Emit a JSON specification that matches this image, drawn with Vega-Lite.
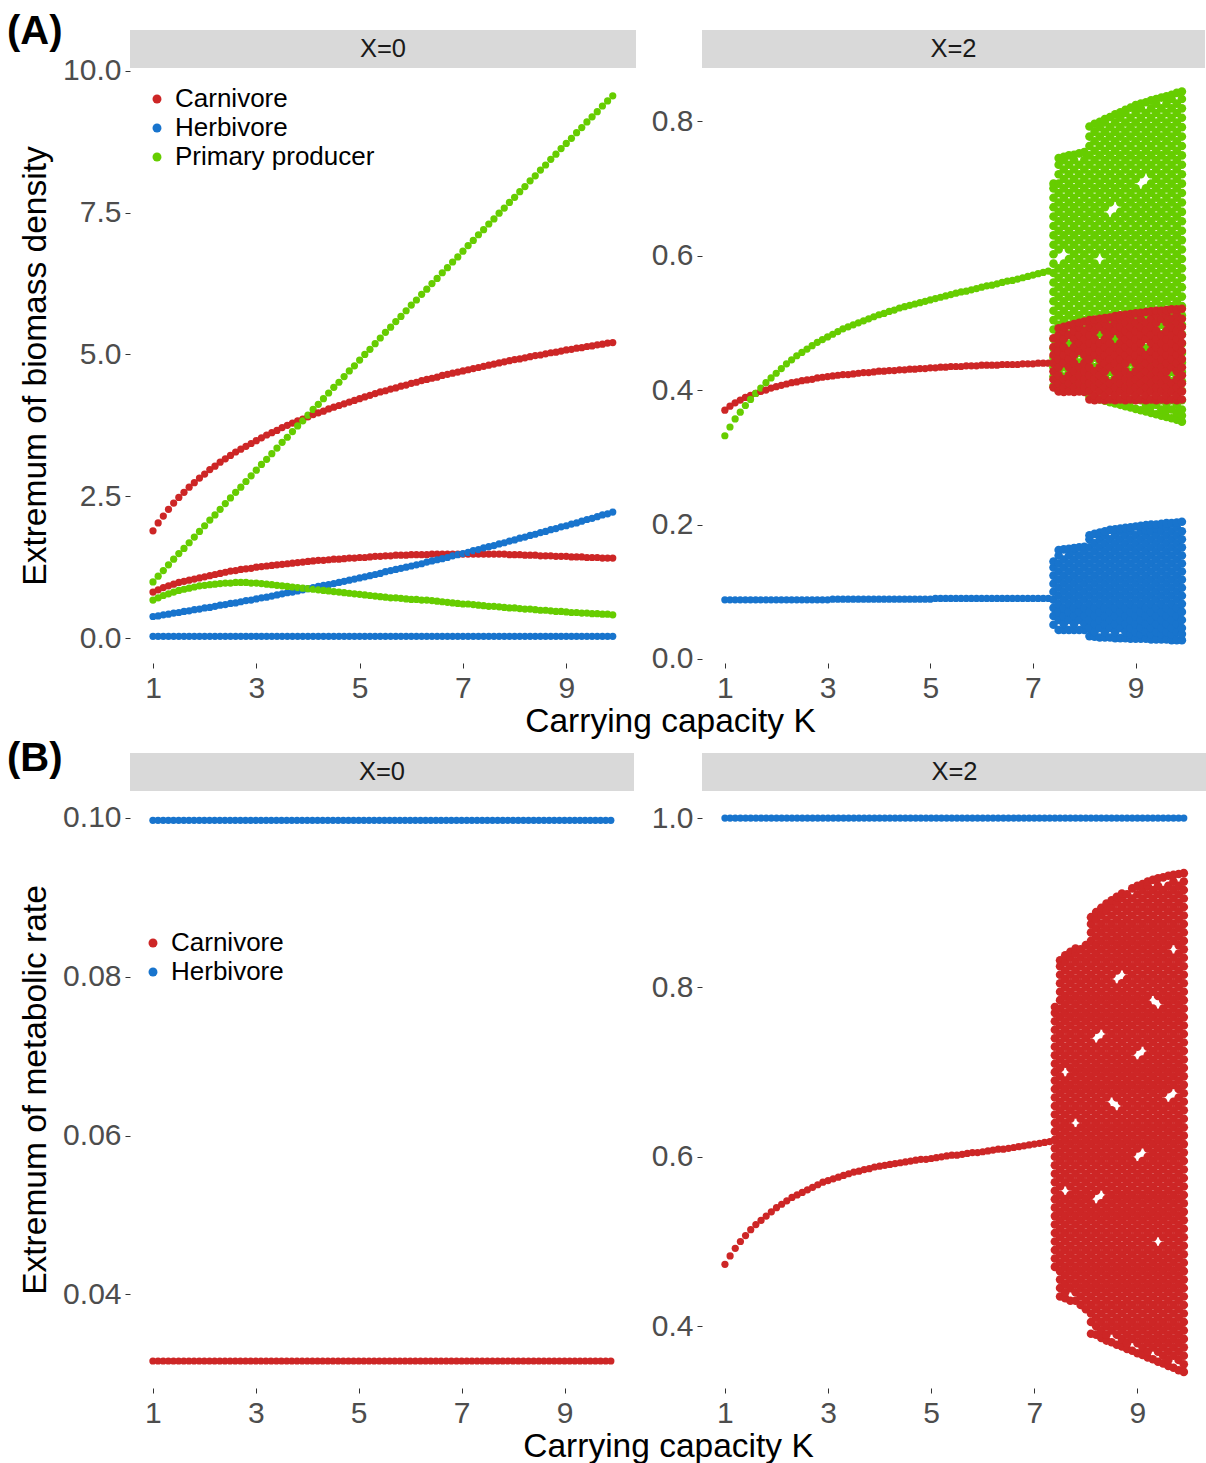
{
"$schema":"https://vega.github.io/schema/vega-lite/v6.json",
"padding":{"left":7,"top":12,"right":0,"bottom":0},
"background":"#ffffff",
"config":{
"font":"Liberation Sans",
"view":{"stroke":null},
"axis":{"grid":false,"domain":false,"ticks":true,"tickSize":5,"tickWidth":1,"tickColor":"#333333","labelFont":"Liberation Sans","labelFontSize":30,"labelColor":"#4d4d4d","labelFlush":false,"labelOverlap":false,"titleFont":"Liberation Sans","titleFontSize":33.5,"titleFontWeight":"normal","titleColor":"#000000"},
"axisX":{"labelPadding":5,"titlePadding":2},
"axisY":{"labelPadding":4,"titlePadding":10},
"legend":{"labelFont":"Liberation Sans","labelLimit":0}
},
"datasets":{
"keys":[{"key":"a","s":"Carnivore"},{"key":"b","s":"Carnivore"},{"key":"c","s":"Herbivore"},{"key":"d","s":"Herbivore"},{"key":"e","s":"Primary producer"},{"key":"f","s":"Primary producer"},{"key":"g","s":"Carnivore"},{"key":"h","s":"Herbivore"},{"key":"i","s":"Primary producer"},{"key":"j","s":"Carnivore"},{"key":"l","s":"Herbivore"},{"key":"m","s":"Carnivore"},{"key":"n","s":"Herbivore"}],
"curves":[
{"k":1.0,"a":1.89,"b":0.81,"c":0.38,"d":0.03,"e":0.99,"f":0.67,"g":0.370,"h":0.088,"i":0.332,"j":0.0316,"l":0.0997,"m":0.473,"n":1},
{"k":1.1,"a":2.03,"b":0.85,"c":0.39,"d":0.03,"e":1.09,"f":0.71,"g":0.376,"h":0.088,"i":0.345,"j":0.0316,"l":0.0997,"m":0.483,"n":1},
{"k":1.2,"a":2.15,"b":0.89,"c":0.41,"d":0.03,"e":1.19,"f":0.75,"g":0.381,"h":0.088,"i":0.357,"j":0.0316,"l":0.0997,"m":0.492,"n":1},
{"k":1.3,"a":2.27,"b":0.92,"c":0.42,"d":0.03,"e":1.29,"f":0.78,"g":0.385,"h":0.088,"i":0.367,"j":0.0316,"l":0.0997,"m":0.500,"n":1},
{"k":1.4,"a":2.38,"b":0.95,"c":0.44,"d":0.03,"e":1.39,"f":0.81,"g":0.389,"h":0.088,"i":0.377,"j":0.0316,"l":0.0997,"m":0.507,"n":1},
{"k":1.5,"a":2.48,"b":0.98,"c":0.45,"d":0.03,"e":1.49,"f":0.84,"g":0.392,"h":0.088,"i":0.386,"j":0.0316,"l":0.0997,"m":0.514,"n":1},
{"k":1.6,"a":2.57,"b":1.00,"c":0.47,"d":0.03,"e":1.58,"f":0.86,"g":0.395,"h":0.088,"i":0.395,"j":0.0316,"l":0.0997,"m":0.520,"n":1},
{"k":1.7,"a":2.66,"b":1.02,"c":0.48,"d":0.03,"e":1.68,"f":0.88,"g":0.398,"h":0.088,"i":0.403,"j":0.0316,"l":0.0997,"m":0.525,"n":1},
{"k":1.8,"a":2.74,"b":1.04,"c":0.50,"d":0.03,"e":1.78,"f":0.90,"g":0.400,"h":0.088,"i":0.411,"j":0.0316,"l":0.0997,"m":0.530,"n":1},
{"k":1.9,"a":2.82,"b":1.06,"c":0.51,"d":0.03,"e":1.88,"f":0.92,"g":0.403,"h":0.088,"i":0.418,"j":0.0316,"l":0.0997,"m":0.535,"n":1},
{"k":2.0,"a":2.89,"b":1.08,"c":0.53,"d":0.03,"e":1.98,"f":0.93,"g":0.405,"h":0.088,"i":0.425,"j":0.0316,"l":0.0997,"m":0.540,"n":1},
{"k":2.1,"a":2.97,"b":1.10,"c":0.54,"d":0.03,"e":2.08,"f":0.94,"g":0.407,"h":0.088,"i":0.432,"j":0.0316,"l":0.0997,"m":0.544,"n":1},
{"k":2.2,"a":3.03,"b":1.12,"c":0.56,"d":0.03,"e":2.17,"f":0.95,"g":0.409,"h":0.088,"i":0.439,"j":0.0316,"l":0.0997,"m":0.548,"n":1},
{"k":2.3,"a":3.10,"b":1.14,"c":0.58,"d":0.03,"e":2.27,"f":0.96,"g":0.411,"h":0.088,"i":0.445,"j":0.0316,"l":0.0997,"m":0.552,"n":1},
{"k":2.4,"a":3.16,"b":1.16,"c":0.59,"d":0.03,"e":2.37,"f":0.97,"g":0.412,"h":0.088,"i":0.451,"j":0.0316,"l":0.0997,"m":0.555,"n":1},
{"k":2.5,"a":3.22,"b":1.18,"c":0.61,"d":0.03,"e":2.47,"f":0.97,"g":0.414,"h":0.088,"i":0.456,"j":0.0316,"l":0.0997,"m":0.558,"n":1},
{"k":2.6,"a":3.28,"b":1.19,"c":0.62,"d":0.03,"e":2.57,"f":0.98,"g":0.415,"h":0.088,"i":0.461,"j":0.0316,"l":0.0997,"m":0.561,"n":1},
{"k":2.7,"a":3.33,"b":1.21,"c":0.64,"d":0.03,"e":2.66,"f":0.98,"g":0.416,"h":0.088,"i":0.466,"j":0.0316,"l":0.0997,"m":0.564,"n":1},
{"k":2.8,"a":3.38,"b":1.22,"c":0.66,"d":0.03,"e":2.76,"f":0.98,"g":0.418,"h":0.088,"i":0.471,"j":0.0316,"l":0.0997,"m":0.567,"n":1},
{"k":2.9,"a":3.43,"b":1.23,"c":0.67,"d":0.03,"e":2.86,"f":0.97,"g":0.419,"h":0.088,"i":0.475,"j":0.0316,"l":0.0997,"m":0.570,"n":1},
{"k":3.0,"a":3.48,"b":1.25,"c":0.69,"d":0.03,"e":2.96,"f":0.97,"g":0.420,"h":0.088,"i":0.479,"j":0.0316,"l":0.0997,"m":0.572,"n":1},
{"k":3.1,"a":3.53,"b":1.26,"c":0.71,"d":0.03,"e":3.06,"f":0.96,"g":0.421,"h":0.089,"i":0.483,"j":0.0316,"l":0.0997,"m":0.574,"n":1},
{"k":3.2,"a":3.58,"b":1.27,"c":0.72,"d":0.03,"e":3.15,"f":0.95,"g":0.422,"h":0.089,"i":0.487,"j":0.0316,"l":0.0997,"m":0.576,"n":1},
{"k":3.3,"a":3.62,"b":1.28,"c":0.74,"d":0.03,"e":3.25,"f":0.94,"g":0.423,"h":0.089,"i":0.491,"j":0.0316,"l":0.0997,"m":0.578,"n":1},
{"k":3.4,"a":3.66,"b":1.29,"c":0.76,"d":0.03,"e":3.35,"f":0.93,"g":0.423,"h":0.089,"i":0.494,"j":0.0316,"l":0.0997,"m":0.580,"n":1},
{"k":3.5,"a":3.71,"b":1.30,"c":0.78,"d":0.03,"e":3.45,"f":0.92,"g":0.424,"h":0.089,"i":0.497,"j":0.0316,"l":0.0997,"m":0.582,"n":1},
{"k":3.6,"a":3.75,"b":1.31,"c":0.80,"d":0.03,"e":3.54,"f":0.91,"g":0.425,"h":0.089,"i":0.500,"j":0.0316,"l":0.0997,"m":0.583,"n":1},
{"k":3.7,"a":3.79,"b":1.32,"c":0.81,"d":0.03,"e":3.64,"f":0.90,"g":0.426,"h":0.089,"i":0.503,"j":0.0316,"l":0.0997,"m":0.585,"n":1},
{"k":3.8,"a":3.83,"b":1.33,"c":0.83,"d":0.03,"e":3.74,"f":0.89,"g":0.426,"h":0.089,"i":0.506,"j":0.0316,"l":0.0997,"m":0.586,"n":1},
{"k":3.9,"a":3.86,"b":1.34,"c":0.85,"d":0.03,"e":3.83,"f":0.88,"g":0.427,"h":0.089,"i":0.509,"j":0.0316,"l":0.0997,"m":0.588,"n":1},
{"k":4.0,"a":3.90,"b":1.35,"c":0.87,"d":0.03,"e":3.93,"f":0.87,"g":0.428,"h":0.089,"i":0.512,"j":0.0316,"l":0.0997,"m":0.589,"n":1},
{"k":4.1,"a":3.94,"b":1.36,"c":0.89,"d":0.03,"e":4.03,"f":0.86,"g":0.428,"h":0.089,"i":0.514,"j":0.0316,"l":0.0997,"m":0.590,"n":1},
{"k":4.2,"a":3.97,"b":1.37,"c":0.91,"d":0.03,"e":4.12,"f":0.85,"g":0.429,"h":0.089,"i":0.517,"j":0.0316,"l":0.0997,"m":0.591,"n":1},
{"k":4.3,"a":4.00,"b":1.37,"c":0.93,"d":0.03,"e":4.22,"f":0.84,"g":0.429,"h":0.089,"i":0.519,"j":0.0316,"l":0.0997,"m":0.592,"n":1},
{"k":4.4,"a":4.04,"b":1.38,"c":0.94,"d":0.03,"e":4.32,"f":0.83,"g":0.430,"h":0.089,"i":0.522,"j":0.0316,"l":0.0997,"m":0.593,"n":1},
{"k":4.5,"a":4.07,"b":1.39,"c":0.96,"d":0.03,"e":4.42,"f":0.82,"g":0.430,"h":0.089,"i":0.524,"j":0.0316,"l":0.0997,"m":0.594,"n":1},
{"k":4.6,"a":4.10,"b":1.39,"c":0.98,"d":0.03,"e":4.51,"f":0.81,"g":0.431,"h":0.089,"i":0.526,"j":0.0316,"l":0.0997,"m":0.595,"n":1},
{"k":4.7,"a":4.13,"b":1.40,"c":1.00,"d":0.03,"e":4.61,"f":0.80,"g":0.431,"h":0.089,"i":0.528,"j":0.0316,"l":0.0997,"m":0.596,"n":1},
{"k":4.8,"a":4.16,"b":1.41,"c":1.02,"d":0.03,"e":4.71,"f":0.79,"g":0.432,"h":0.089,"i":0.530,"j":0.0316,"l":0.0997,"m":0.597,"n":1},
{"k":4.9,"a":4.19,"b":1.41,"c":1.04,"d":0.03,"e":4.80,"f":0.78,"g":0.432,"h":0.089,"i":0.532,"j":0.0316,"l":0.0997,"m":0.597,"n":1},
{"k":5.0,"a":4.22,"b":1.42,"c":1.06,"d":0.03,"e":4.90,"f":0.77,"g":0.433,"h":0.089,"i":0.534,"j":0.0316,"l":0.0997,"m":0.598,"n":1},
{"k":5.1,"a":4.25,"b":1.42,"c":1.08,"d":0.03,"e":5.00,"f":0.76,"g":0.433,"h":0.090,"i":0.536,"j":0.0316,"l":0.0997,"m":0.599,"n":1},
{"k":5.2,"a":4.28,"b":1.43,"c":1.10,"d":0.03,"e":5.09,"f":0.75,"g":0.434,"h":0.090,"i":0.538,"j":0.0316,"l":0.0997,"m":0.600,"n":1},
{"k":5.3,"a":4.31,"b":1.44,"c":1.12,"d":0.03,"e":5.19,"f":0.74,"g":0.434,"h":0.090,"i":0.540,"j":0.0316,"l":0.0997,"m":0.601,"n":1},
{"k":5.4,"a":4.34,"b":1.44,"c":1.14,"d":0.03,"e":5.29,"f":0.73,"g":0.435,"h":0.090,"i":0.542,"j":0.0316,"l":0.0997,"m":0.602,"n":1},
{"k":5.5,"a":4.36,"b":1.45,"c":1.17,"d":0.03,"e":5.39,"f":0.72,"g":0.435,"h":0.090,"i":0.544,"j":0.0316,"l":0.0997,"m":0.602,"n":1},
{"k":5.6,"a":4.39,"b":1.45,"c":1.19,"d":0.03,"e":5.48,"f":0.71,"g":0.435,"h":0.090,"i":0.546,"j":0.0316,"l":0.0997,"m":0.603,"n":1},
{"k":5.7,"a":4.41,"b":1.46,"c":1.21,"d":0.03,"e":5.58,"f":0.71,"g":0.436,"h":0.090,"i":0.547,"j":0.0316,"l":0.0997,"m":0.604,"n":1},
{"k":5.8,"a":4.44,"b":1.46,"c":1.23,"d":0.03,"e":5.67,"f":0.70,"g":0.436,"h":0.090,"i":0.549,"j":0.0316,"l":0.0997,"m":0.605,"n":1},
{"k":5.9,"a":4.46,"b":1.46,"c":1.25,"d":0.03,"e":5.77,"f":0.69,"g":0.436,"h":0.090,"i":0.551,"j":0.0316,"l":0.0997,"m":0.605,"n":1},
{"k":6.0,"a":4.49,"b":1.47,"c":1.27,"d":0.03,"e":5.87,"f":0.68,"g":0.437,"h":0.090,"i":0.553,"j":0.0316,"l":0.0997,"m":0.606,"n":1},
{"k":6.1,"a":4.51,"b":1.47,"c":1.29,"d":0.03,"e":5.96,"f":0.68,"g":0.437,"h":0.090,"i":0.555,"j":0.0316,"l":0.0997,"m":0.607,"n":1},
{"k":6.2,"a":4.54,"b":1.47,"c":1.31,"d":0.03,"e":6.06,"f":0.67,"g":0.437,"h":0.090,"i":0.556,"j":0.0316,"l":0.0997,"m":0.608,"n":1},
{"k":6.3,"a":4.56,"b":1.47,"c":1.34,"d":0.03,"e":6.15,"f":0.67,"g":0.437,"h":0.090,"i":0.558,"j":0.0316,"l":0.0997,"m":0.609,"n":1},
{"k":6.4,"a":4.58,"b":1.48,"c":1.36,"d":0.03,"e":6.25,"f":0.66,"g":0.438,"h":0.090,"i":0.560,"j":0.0316,"l":0.0997,"m":0.609,"n":1},
{"k":6.5,"a":4.60,"b":1.48,"c":1.38,"d":0.03,"e":6.34,"f":0.65,"g":0.438,"h":0.090,"i":0.562,"j":0.0316,"l":0.0997,"m":0.610,"n":1},
{"k":6.6,"a":4.63,"b":1.48,"c":1.40,"d":0.03,"e":6.44,"f":0.64,"g":0.438,"h":0.090,"i":0.563,"j":0.0316,"l":0.0997,"m":0.611,"n":1},
{"k":6.7,"a":4.65,"b":1.48,"c":1.42,"d":0.03,"e":6.53,"f":0.63,"g":0.438,"h":0.090,"i":0.565,"j":0.0316,"l":0.0997,"m":0.612,"n":1},
{"k":6.8,"a":4.67,"b":1.48,"c":1.45,"d":0.03,"e":6.63,"f":0.62,"g":0.439,"h":0.090,"i":0.567,"j":0.0316,"l":0.0997,"m":0.613,"n":1},
{"k":6.9,"a":4.69,"b":1.48,"c":1.47,"d":0.03,"e":6.72,"f":0.61,"g":0.439,"h":0.090,"i":0.569,"j":0.0316,"l":0.0997,"m":0.614,"n":1},
{"k":7.0,"a":4.71,"b":1.48,"c":1.49,"d":0.03,"e":6.82,"f":0.60,"g":0.439,"h":0.090,"i":0.571,"j":0.0316,"l":0.0997,"m":0.615,"n":1},
{"k":7.1,"a":4.73,"b":1.48,"c":1.51,"d":0.03,"e":6.92,"f":0.60,"g":0.440,"h":0.090,"i":0.573,"j":0.0316,"l":0.0997,"m":0.616,"n":1},
{"k":7.2,"a":4.75,"b":1.48,"c":1.54,"d":0.03,"e":7.01,"f":0.59,"g":0.440,"h":0.090,"i":0.575,"j":0.0316,"l":0.0997,"m":0.617,"n":1},
{"k":7.3,"a":4.77,"b":1.48,"c":1.56,"d":0.03,"e":7.11,"f":0.58,"g":0.440,"h":0.090,"i":0.577,"j":0.0316,"l":0.0997,"m":0.618,"n":1},
{"k":7.4,"a":4.79,"b":1.48,"c":1.59,"d":0.03,"e":7.20,"f":0.57,"j":0.0316,"l":0.0997,"n":1},
{"k":7.5,"a":4.81,"b":1.48,"c":1.61,"d":0.03,"e":7.30,"f":0.56,"j":0.0316,"l":0.0997,"n":1},
{"k":7.6,"a":4.83,"b":1.48,"c":1.63,"d":0.03,"e":7.39,"f":0.56,"j":0.0316,"l":0.0997,"n":1},
{"k":7.7,"a":4.85,"b":1.48,"c":1.66,"d":0.03,"e":7.49,"f":0.55,"j":0.0316,"l":0.0997,"n":1},
{"k":7.8,"a":4.87,"b":1.48,"c":1.68,"d":0.03,"e":7.58,"f":0.54,"j":0.0316,"l":0.0997,"n":1},
{"k":7.9,"a":4.89,"b":1.47,"c":1.71,"d":0.03,"e":7.68,"f":0.53,"j":0.0316,"l":0.0997,"n":1},
{"k":8.0,"a":4.91,"b":1.47,"c":1.73,"d":0.03,"e":7.77,"f":0.53,"j":0.0316,"l":0.0997,"n":1},
{"k":8.1,"a":4.92,"b":1.47,"c":1.76,"d":0.03,"e":7.87,"f":0.52,"j":0.0316,"l":0.0997,"n":1},
{"k":8.2,"a":4.94,"b":1.46,"c":1.78,"d":0.03,"e":7.96,"f":0.51,"j":0.0316,"l":0.0997,"n":1},
{"k":8.3,"a":4.96,"b":1.46,"c":1.81,"d":0.03,"e":8.06,"f":0.51,"j":0.0316,"l":0.0997,"n":1},
{"k":8.4,"a":4.98,"b":1.46,"c":1.83,"d":0.03,"e":8.15,"f":0.50,"j":0.0316,"l":0.0997,"n":1},
{"k":8.5,"a":4.99,"b":1.45,"c":1.86,"d":0.03,"e":8.25,"f":0.49,"j":0.0316,"l":0.0997,"n":1},
{"k":8.6,"a":5.01,"b":1.45,"c":1.88,"d":0.03,"e":8.34,"f":0.49,"j":0.0316,"l":0.0997,"n":1},
{"k":8.7,"a":5.03,"b":1.45,"c":1.91,"d":0.03,"e":8.44,"f":0.48,"j":0.0316,"l":0.0997,"n":1},
{"k":8.8,"a":5.04,"b":1.44,"c":1.93,"d":0.03,"e":8.53,"f":0.47,"j":0.0316,"l":0.0997,"n":1},
{"k":8.9,"a":5.06,"b":1.44,"c":1.96,"d":0.03,"e":8.63,"f":0.47,"j":0.0316,"l":0.0997,"n":1},
{"k":9.0,"a":5.08,"b":1.44,"c":1.98,"d":0.03,"e":8.72,"f":0.46,"j":0.0316,"l":0.0997,"n":1},
{"k":9.1,"a":5.09,"b":1.43,"c":2.01,"d":0.03,"e":8.81,"f":0.45,"j":0.0316,"l":0.0997,"n":1},
{"k":9.2,"a":5.11,"b":1.43,"c":2.03,"d":0.03,"e":8.91,"f":0.45,"j":0.0316,"l":0.0997,"n":1},
{"k":9.3,"a":5.12,"b":1.43,"c":2.06,"d":0.03,"e":9.00,"f":0.44,"j":0.0316,"l":0.0997,"n":1},
{"k":9.4,"a":5.14,"b":1.42,"c":2.09,"d":0.03,"e":9.10,"f":0.44,"j":0.0316,"l":0.0997,"n":1},
{"k":9.5,"a":5.15,"b":1.42,"c":2.11,"d":0.03,"e":9.19,"f":0.43,"j":0.0316,"l":0.0997,"n":1},
{"k":9.6,"a":5.17,"b":1.42,"c":2.14,"d":0.03,"e":9.28,"f":0.43,"j":0.0316,"l":0.0997,"n":1},
{"k":9.7,"a":5.18,"b":1.41,"c":2.17,"d":0.03,"e":9.38,"f":0.42,"j":0.0316,"l":0.0997,"n":1},
{"k":9.8,"a":5.20,"b":1.41,"c":2.19,"d":0.03,"e":9.47,"f":0.42,"j":0.0316,"l":0.0997,"n":1},
{"k":9.9,"a":5.21,"b":1.41,"c":2.22,"d":0.03,"e":9.56,"f":0.41,"j":0.0316,"l":0.0997,"n":1}
],
"bands":[
{"p":"A2","s":"Primary producer","k":7.4,"v":[0.406,0.42,0.434,0.448,0.462,0.476,0.49,0.504,0.518,0.532,0.546,0.56,0.574,0.588,0.602,0.616,0.63,0.644,0.658,0.672,0.686,0.7,0.707]},
{"p":"A2","s":"Primary producer","k":7.5,"v":[0.399,0.413,0.427,0.441,0.455,0.469,0.483,0.497,0.511,0.525,0.539,0.553,0.567,0.581,0.609,0.623,0.637,0.651,0.665,0.679,0.693,0.707,0.721,0.735,0.745]},
{"p":"A2","s":"Primary producer","k":7.6,"v":[0.406,0.42,0.434,0.448,0.462,0.476,0.49,0.504,0.518,0.532,0.546,0.56,0.574,0.588,0.616,0.63,0.644,0.658,0.672,0.686,0.7,0.714,0.728,0.742,0.747]},
{"p":"A2","s":"Primary producer","k":7.7,"v":[0.399,0.413,0.427,0.441,0.455,0.469,0.483,0.497,0.511,0.525,0.539,0.553,0.567,0.581,0.595,0.609,0.623,0.637,0.651,0.665,0.679,0.693,0.707,0.721,0.735,0.749]},
{"p":"A2","s":"Primary producer","k":7.8,"v":[0.406,0.42,0.434,0.448,0.462,0.476,0.49,0.504,0.518,0.532,0.546,0.56,0.574,0.588,0.602,0.616,0.63,0.644,0.658,0.672,0.686,0.7,0.714,0.728,0.742,0.75]},
{"p":"A2","s":"Primary producer","k":7.9,"v":[0.399,0.413,0.427,0.441,0.455,0.469,0.483,0.497,0.511,0.525,0.539,0.553,0.567,0.581,0.595,0.609,0.623,0.637,0.651,0.665,0.679,0.693,0.707,0.721,0.735,0.752]},
{"p":"A2","s":"Primary producer","k":8.0,"v":[0.406,0.42,0.434,0.448,0.462,0.476,0.49,0.504,0.518,0.532,0.546,0.56,0.574,0.588,0.602,0.616,0.63,0.644,0.658,0.672,0.686,0.7,0.714,0.728,0.742,0.754]},
{"p":"A2","s":"Primary producer","k":8.1,"v":[0.39,0.399,0.413,0.427,0.441,0.455,0.469,0.483,0.497,0.511,0.525,0.539,0.553,0.567,0.581,0.595,0.609,0.623,0.637,0.651,0.665,0.679,0.693,0.707,0.721,0.735,0.749,0.763,0.777,0.792]},
{"p":"A2","s":"Primary producer","k":8.2,"v":[0.388,0.406,0.42,0.434,0.448,0.462,0.476,0.49,0.504,0.518,0.532,0.546,0.56,0.574,0.588,0.602,0.616,0.63,0.644,0.658,0.672,0.686,0.7,0.714,0.728,0.742,0.756,0.77,0.784,0.796]},
{"p":"A2","s":"Primary producer","k":8.3,"v":[0.386,0.399,0.413,0.427,0.441,0.455,0.469,0.483,0.497,0.511,0.525,0.539,0.553,0.567,0.581,0.609,0.623,0.637,0.651,0.665,0.679,0.693,0.707,0.721,0.735,0.749,0.763,0.777,0.791,0.799]},
{"p":"A2","s":"Primary producer","k":8.4,"v":[0.384,0.392,0.406,0.42,0.434,0.448,0.462,0.476,0.49,0.504,0.518,0.532,0.546,0.56,0.574,0.588,0.602,0.616,0.63,0.644,0.658,0.672,0.686,0.7,0.714,0.728,0.742,0.756,0.77,0.784,0.798,0.803]},
{"p":"A2","s":"Primary producer","k":8.5,"v":[0.382,0.399,0.413,0.427,0.441,0.455,0.469,0.483,0.497,0.511,0.525,0.539,0.553,0.567,0.581,0.595,0.609,0.623,0.637,0.651,0.679,0.693,0.707,0.721,0.735,0.749,0.763,0.777,0.791,0.806]},
{"p":"A2","s":"Primary producer","k":8.6,"v":[0.38,0.392,0.406,0.42,0.434,0.448,0.462,0.476,0.49,0.504,0.518,0.532,0.546,0.56,0.574,0.588,0.602,0.616,0.63,0.644,0.658,0.686,0.7,0.714,0.728,0.742,0.756,0.77,0.784,0.798,0.81]},
{"p":"A2","s":"Primary producer","k":8.7,"v":[0.378,0.385,0.399,0.413,0.427,0.441,0.455,0.469,0.483,0.497,0.511,0.525,0.539,0.553,0.567,0.581,0.595,0.609,0.623,0.637,0.651,0.665,0.679,0.693,0.707,0.721,0.735,0.749,0.763,0.777,0.791,0.805,0.813]},
{"p":"A2","s":"Primary producer","k":8.8,"v":[0.376,0.392,0.406,0.42,0.434,0.448,0.462,0.476,0.49,0.504,0.518,0.532,0.546,0.56,0.574,0.588,0.602,0.616,0.63,0.644,0.658,0.672,0.686,0.7,0.714,0.728,0.742,0.756,0.77,0.784,0.798,0.812,0.817]},
{"p":"A2","s":"Primary producer","k":8.9,"v":[0.374,0.385,0.399,0.413,0.427,0.441,0.455,0.469,0.483,0.497,0.511,0.525,0.539,0.553,0.567,0.581,0.595,0.609,0.623,0.637,0.651,0.665,0.679,0.693,0.707,0.721,0.735,0.749,0.763,0.777,0.791,0.805,0.82]},
{"p":"A2","s":"Primary producer","k":9.0,"v":[0.372,0.392,0.406,0.42,0.434,0.448,0.462,0.476,0.49,0.504,0.518,0.532,0.546,0.56,0.574,0.588,0.602,0.616,0.63,0.644,0.658,0.672,0.686,0.7,0.714,0.728,0.742,0.756,0.77,0.784,0.798,0.812,0.824]},
{"p":"A2","s":"Primary producer","k":9.1,"v":[0.37,0.385,0.399,0.413,0.427,0.441,0.455,0.469,0.483,0.497,0.511,0.525,0.539,0.553,0.567,0.581,0.595,0.609,0.623,0.637,0.651,0.665,0.679,0.693,0.721,0.735,0.749,0.763,0.777,0.791,0.805,0.819,0.826]},
{"p":"A2","s":"Primary producer","k":9.2,"v":[0.368,0.378,0.392,0.406,0.42,0.434,0.448,0.462,0.476,0.49,0.504,0.518,0.532,0.546,0.56,0.574,0.588,0.602,0.616,0.63,0.644,0.658,0.672,0.686,0.7,0.728,0.742,0.756,0.77,0.784,0.798,0.812,0.828]},
{"p":"A2","s":"Primary producer","k":9.3,"v":[0.366,0.376,0.385,0.399,0.413,0.427,0.441,0.455,0.469,0.483,0.497,0.511,0.525,0.539,0.553,0.567,0.581,0.595,0.609,0.623,0.637,0.651,0.665,0.679,0.693,0.707,0.721,0.735,0.749,0.763,0.777,0.791,0.805,0.819,0.831]},
{"p":"A2","s":"Primary producer","k":9.4,"v":[0.364,0.378,0.392,0.406,0.42,0.434,0.448,0.462,0.476,0.49,0.504,0.518,0.532,0.546,0.56,0.574,0.588,0.602,0.616,0.63,0.644,0.658,0.672,0.686,0.7,0.714,0.728,0.742,0.756,0.77,0.784,0.798,0.812,0.826,0.833]},
{"p":"A2","s":"Primary producer","k":9.5,"v":[0.362,0.371,0.385,0.399,0.413,0.427,0.441,0.455,0.469,0.483,0.497,0.511,0.525,0.539,0.553,0.567,0.581,0.595,0.609,0.623,0.637,0.651,0.665,0.679,0.693,0.707,0.721,0.735,0.749,0.763,0.777,0.791,0.805,0.819,0.835]},
{"p":"A2","s":"Primary producer","k":9.6,"v":[0.36,0.37,0.38,0.392,0.406,0.42,0.434,0.448,0.462,0.476,0.49,0.504,0.518,0.532,0.546,0.56,0.574,0.588,0.602,0.616,0.63,0.644,0.658,0.672,0.686,0.7,0.714,0.728,0.742,0.756,0.77,0.784,0.798,0.812,0.826,0.837]},
{"p":"A2","s":"Primary producer","k":9.7,"v":[0.358,0.371,0.385,0.399,0.413,0.427,0.441,0.455,0.469,0.483,0.497,0.511,0.525,0.539,0.553,0.567,0.581,0.595,0.609,0.623,0.637,0.651,0.665,0.679,0.693,0.707,0.721,0.735,0.749,0.763,0.777,0.791,0.805,0.819,0.833,0.839]},
{"p":"A2","s":"Primary producer","k":9.8,"v":[0.356,0.366,0.378,0.392,0.406,0.42,0.434,0.448,0.462,0.476,0.49,0.504,0.518,0.532,0.546,0.56,0.574,0.588,0.602,0.616,0.63,0.644,0.658,0.672,0.686,0.7,0.714,0.728,0.742,0.756,0.77,0.784,0.798,0.812,0.826,0.842]},
{"p":"A2","s":"Primary producer","k":9.9,"v":[0.353,0.362,0.371,0.385,0.399,0.413,0.427,0.441,0.455,0.469,0.483,0.497,0.511,0.525,0.539,0.553,0.567,0.581,0.595,0.609,0.623,0.637,0.651,0.665,0.679,0.693,0.707,0.721,0.735,0.749,0.763,0.777,0.791,0.805,0.819,0.833,0.844]},
{"p":"A2","s":"Carnivore","k":7.4,"v":[0.404,0.416,0.428,0.44,0.452,0.464,0.477]},
{"p":"A2","s":"Carnivore","k":7.5,"v":[0.398,0.41,0.422,0.434,0.446,0.458,0.47,0.482,0.492]},
{"p":"A2","s":"Carnivore","k":7.6,"v":[0.397,0.404,0.416,0.44,0.452,0.464,0.476,0.488,0.494]},
{"p":"A2","s":"Carnivore","k":7.7,"v":[0.398,0.41,0.422,0.434,0.446,0.458,0.482,0.496]},
{"p":"A2","s":"Carnivore","k":7.8,"v":[0.397,0.404,0.416,0.428,0.44,0.452,0.464,0.476,0.488,0.498]},
{"p":"A2","s":"Carnivore","k":7.9,"v":[0.398,0.41,0.422,0.434,0.458,0.47,0.482,0.494,0.5]},
{"p":"A2","s":"Carnivore","k":8.0,"v":[0.397,0.404,0.416,0.428,0.44,0.452,0.464,0.476,0.488,0.502]},
{"p":"A2","s":"Carnivore","k":8.1,"v":[0.386,0.398,0.41,0.422,0.434,0.446,0.458,0.47,0.482,0.494,0.504]},
{"p":"A2","s":"Carnivore","k":8.2,"v":[0.385,0.392,0.404,0.416,0.428,0.452,0.464,0.476,0.488,0.5,0.505]},
{"p":"A2","s":"Carnivore","k":8.3,"v":[0.386,0.398,0.41,0.422,0.434,0.446,0.458,0.47,0.494,0.506]},
{"p":"A2","s":"Carnivore","k":8.4,"v":[0.385,0.392,0.404,0.416,0.428,0.44,0.452,0.464,0.476,0.488,0.5,0.507]},
{"p":"A2","s":"Carnivore","k":8.5,"v":[0.386,0.398,0.41,0.434,0.446,0.458,0.47,0.482,0.494,0.508]},
{"p":"A2","s":"Carnivore","k":8.6,"v":[0.385,0.392,0.404,0.416,0.428,0.44,0.452,0.464,0.488,0.5,0.51]},
{"p":"A2","s":"Carnivore","k":8.7,"v":[0.386,0.398,0.41,0.422,0.434,0.446,0.458,0.47,0.482,0.494,0.506,0.511]},
{"p":"A2","s":"Carnivore","k":8.8,"v":[0.385,0.392,0.404,0.416,0.428,0.44,0.452,0.464,0.476,0.488,0.5,0.512]},
{"p":"A2","s":"Carnivore","k":8.9,"v":[0.386,0.398,0.41,0.422,0.446,0.458,0.47,0.482,0.494,0.506,0.513]},
{"p":"A2","s":"Carnivore","k":9.0,"v":[0.385,0.392,0.404,0.416,0.428,0.44,0.452,0.464,0.476,0.488,0.5,0.514]},
{"p":"A2","s":"Carnivore","k":9.1,"v":[0.386,0.398,0.41,0.422,0.434,0.446,0.458,0.47,0.482,0.494,0.506,0.515]},
{"p":"A2","s":"Carnivore","k":9.2,"v":[0.385,0.392,0.404,0.416,0.428,0.44,0.452,0.476,0.488,0.5,0.516]},
{"p":"A2","s":"Carnivore","k":9.3,"v":[0.386,0.398,0.41,0.422,0.434,0.446,0.458,0.47,0.482,0.494,0.506,0.517]},
{"p":"A2","s":"Carnivore","k":9.4,"v":[0.385,0.392,0.404,0.416,0.428,0.44,0.452,0.464,0.476,0.488,0.5,0.512,0.518]},
{"p":"A2","s":"Carnivore","k":9.5,"v":[0.386,0.398,0.41,0.422,0.434,0.446,0.458,0.47,0.482,0.506,0.518]},
{"p":"A2","s":"Carnivore","k":9.6,"v":[0.385,0.392,0.404,0.416,0.428,0.44,0.452,0.464,0.476,0.488,0.5,0.512,0.519]},
{"p":"A2","s":"Carnivore","k":9.7,"v":[0.386,0.398,0.41,0.434,0.446,0.458,0.47,0.482,0.494,0.506,0.52]},
{"p":"A2","s":"Carnivore","k":9.8,"v":[0.385,0.392,0.404,0.416,0.428,0.44,0.452,0.464,0.476,0.488,0.5,0.512,0.52]},
{"p":"A2","s":"Carnivore","k":9.9,"v":[0.386,0.398,0.41,0.422,0.434,0.446,0.458,0.47,0.482,0.494,0.506,0.521]},
{"p":"A2","s":"Herbivore","k":7.4,"v":[0.051,0.064,0.076,0.088,0.1,0.112,0.124,0.136,0.145]},
{"p":"A2","s":"Herbivore","k":7.5,"v":[0.043,0.058,0.07,0.082,0.094,0.106,0.118,0.13,0.142,0.154,0.162]},
{"p":"A2","s":"Herbivore","k":7.6,"v":[0.043,0.052,0.064,0.076,0.088,0.1,0.112,0.124,0.136,0.148,0.163]},
{"p":"A2","s":"Herbivore","k":7.7,"v":[0.043,0.058,0.07,0.082,0.094,0.106,0.118,0.13,0.142,0.154,0.164]},
{"p":"A2","s":"Herbivore","k":7.8,"v":[0.043,0.052,0.064,0.076,0.088,0.1,0.112,0.124,0.136,0.148,0.16,0.165]},
{"p":"A2","s":"Herbivore","k":7.9,"v":[0.043,0.058,0.07,0.082,0.094,0.106,0.118,0.13,0.142,0.154,0.166]},
{"p":"A2","s":"Herbivore","k":8.0,"v":[0.043,0.052,0.064,0.076,0.088,0.1,0.112,0.124,0.136,0.148,0.16,0.167]},
{"p":"A2","s":"Herbivore","k":8.1,"v":[0.034,0.046,0.058,0.07,0.082,0.094,0.106,0.118,0.13,0.142,0.154,0.166,0.178,0.184]},
{"p":"A2","s":"Herbivore","k":8.2,"v":[0.033,0.04,0.052,0.064,0.076,0.088,0.1,0.112,0.124,0.136,0.148,0.16,0.172,0.186]},
{"p":"A2","s":"Herbivore","k":8.3,"v":[0.032,0.046,0.058,0.07,0.082,0.094,0.106,0.118,0.13,0.142,0.154,0.166,0.178,0.188]},
{"p":"A2","s":"Herbivore","k":8.4,"v":[0.032,0.04,0.052,0.064,0.076,0.088,0.1,0.112,0.124,0.136,0.148,0.16,0.172,0.184,0.19]},
{"p":"A2","s":"Herbivore","k":8.5,"v":[0.032,0.046,0.058,0.07,0.082,0.094,0.106,0.118,0.13,0.142,0.154,0.166,0.178,0.192]},
{"p":"A2","s":"Herbivore","k":8.6,"v":[0.031,0.04,0.052,0.064,0.076,0.088,0.1,0.112,0.124,0.136,0.148,0.16,0.172,0.184,0.193]},
{"p":"A2","s":"Herbivore","k":8.7,"v":[0.031,0.046,0.058,0.07,0.082,0.094,0.106,0.118,0.13,0.142,0.154,0.166,0.178,0.19,0.194]},
{"p":"A2","s":"Herbivore","k":8.8,"v":[0.031,0.04,0.052,0.064,0.076,0.088,0.1,0.112,0.124,0.136,0.148,0.16,0.172,0.184,0.195]},
{"p":"A2","s":"Herbivore","k":8.9,"v":[0.03,0.037,0.046,0.058,0.07,0.082,0.094,0.106,0.118,0.13,0.142,0.154,0.166,0.178,0.19,0.196]},
{"p":"A2","s":"Herbivore","k":9.0,"v":[0.03,0.04,0.052,0.064,0.076,0.088,0.1,0.112,0.124,0.136,0.148,0.16,0.172,0.184,0.197]},
{"p":"A2","s":"Herbivore","k":9.1,"v":[0.03,0.037,0.046,0.058,0.07,0.082,0.094,0.106,0.118,0.13,0.142,0.154,0.166,0.178,0.19,0.198]},
{"p":"A2","s":"Herbivore","k":9.2,"v":[0.03,0.04,0.052,0.064,0.076,0.088,0.1,0.112,0.124,0.136,0.148,0.16,0.172,0.184,0.192,0.199]},
{"p":"A2","s":"Herbivore","k":9.3,"v":[0.029,0.037,0.046,0.058,0.07,0.082,0.094,0.106,0.118,0.13,0.142,0.154,0.166,0.178,0.19,0.2]},
{"p":"A2","s":"Herbivore","k":9.4,"v":[0.029,0.04,0.052,0.064,0.076,0.088,0.1,0.112,0.124,0.136,0.148,0.16,0.172,0.184,0.194,0.2]},
{"p":"A2","s":"Herbivore","k":9.5,"v":[0.029,0.037,0.046,0.058,0.07,0.082,0.094,0.106,0.118,0.13,0.142,0.154,0.166,0.178,0.19,0.201]},
{"p":"A2","s":"Herbivore","k":9.6,"v":[0.029,0.04,0.052,0.064,0.076,0.088,0.1,0.112,0.124,0.136,0.148,0.16,0.172,0.184,0.196,0.202]},
{"p":"A2","s":"Herbivore","k":9.7,"v":[0.028,0.037,0.046,0.058,0.07,0.082,0.094,0.106,0.118,0.13,0.142,0.154,0.166,0.178,0.19,0.202]},
{"p":"A2","s":"Herbivore","k":9.8,"v":[0.028,0.04,0.052,0.064,0.076,0.088,0.1,0.112,0.124,0.136,0.148,0.16,0.172,0.184,0.196,0.203]},
{"p":"A2","s":"Herbivore","k":9.9,"v":[0.028,0.037,0.046,0.058,0.07,0.082,0.094,0.106,0.118,0.13,0.142,0.154,0.166,0.178,0.19,0.204]},
{"p":"B2","s":"Carnivore","k":7.4,"v":[0.47,0.48,0.49,0.5,0.51,0.52,0.53,0.54,0.55,0.56,0.57,0.58,0.59,0.6,0.61,0.62,0.63,0.64,0.65,0.66,0.67,0.68,0.69,0.7,0.71,0.72,0.73,0.74,0.75,0.76,0.77,0.777]},
{"p":"B2","s":"Carnivore","k":7.5,"v":[0.435,0.445,0.455,0.465,0.475,0.485,0.495,0.505,0.515,0.525,0.535,0.545,0.555,0.565,0.575,0.585,0.595,0.605,0.615,0.625,0.635,0.645,0.655,0.665,0.675,0.685,0.695,0.705,0.715,0.725,0.735,0.745,0.755,0.765,0.775,0.785,0.795,0.805,0.815,0.825,0.832]},
{"p":"B2","s":"Carnivore","k":7.6,"v":[0.433,0.44,0.45,0.46,0.47,0.48,0.49,0.5,0.51,0.52,0.53,0.54,0.55,0.57,0.58,0.59,0.6,0.61,0.62,0.63,0.64,0.65,0.66,0.67,0.68,0.69,0.71,0.72,0.73,0.74,0.75,0.76,0.77,0.78,0.79,0.8,0.81,0.82,0.83,0.838]},
{"p":"B2","s":"Carnivore","k":7.7,"v":[0.43,0.445,0.455,0.465,0.475,0.485,0.495,0.505,0.515,0.525,0.535,0.545,0.555,0.565,0.575,0.585,0.595,0.605,0.615,0.625,0.635,0.645,0.655,0.665,0.675,0.685,0.695,0.705,0.715,0.725,0.735,0.745,0.755,0.765,0.775,0.785,0.795,0.805,0.815,0.825,0.835,0.842]},
{"p":"B2","s":"Carnivore","k":7.8,"v":[0.43,0.44,0.45,0.46,0.47,0.48,0.49,0.5,0.51,0.52,0.53,0.54,0.55,0.56,0.57,0.58,0.59,0.6,0.61,0.62,0.63,0.65,0.66,0.67,0.68,0.69,0.7,0.71,0.72,0.73,0.74,0.75,0.76,0.77,0.78,0.79,0.8,0.81,0.82,0.83,0.84,0.846]},
{"p":"B2","s":"Carnivore","k":7.9,"v":[0.425,0.435,0.445,0.455,0.465,0.475,0.485,0.495,0.505,0.515,0.525,0.535,0.545,0.555,0.565,0.575,0.585,0.595,0.605,0.615,0.625,0.635,0.645,0.655,0.665,0.675,0.685,0.695,0.705,0.715,0.725,0.735,0.745,0.755,0.765,0.775,0.785,0.795,0.805,0.815,0.825,0.835,0.845]},
{"p":"B2","s":"Carnivore","k":8.0,"v":[0.42,0.43,0.44,0.45,0.46,0.47,0.48,0.49,0.5,0.51,0.52,0.53,0.54,0.55,0.56,0.57,0.58,0.59,0.6,0.61,0.62,0.63,0.64,0.65,0.66,0.67,0.68,0.69,0.7,0.71,0.72,0.73,0.74,0.75,0.76,0.77,0.78,0.79,0.8,0.81,0.82,0.83,0.84,0.85]},
{"p":"B2","s":"Carnivore","k":8.1,"v":[0.391,0.405,0.415,0.425,0.435,0.445,0.455,0.465,0.475,0.485,0.495,0.505,0.515,0.525,0.535,0.545,0.555,0.565,0.575,0.585,0.595,0.605,0.615,0.625,0.635,0.645,0.655,0.665,0.675,0.685,0.695,0.705,0.715,0.725,0.735,0.745,0.755,0.765,0.775,0.785,0.795,0.805,0.815,0.825,0.835,0.845,0.855,0.865,0.875,0.883]},
{"p":"B2","s":"Carnivore","k":8.2,"v":[0.39,0.4,0.41,0.42,0.43,0.44,0.45,0.46,0.47,0.48,0.49,0.5,0.51,0.52,0.53,0.54,0.56,0.57,0.58,0.59,0.6,0.61,0.62,0.63,0.64,0.65,0.66,0.67,0.68,0.69,0.7,0.71,0.72,0.73,0.75,0.76,0.77,0.78,0.79,0.8,0.81,0.82,0.83,0.84,0.85,0.86,0.87,0.88,0.889]},
{"p":"B2","s":"Carnivore","k":8.3,"v":[0.386,0.395,0.405,0.415,0.425,0.435,0.445,0.455,0.465,0.475,0.485,0.495,0.505,0.515,0.525,0.535,0.545,0.565,0.575,0.585,0.595,0.605,0.615,0.625,0.635,0.645,0.655,0.665,0.675,0.685,0.695,0.705,0.715,0.725,0.735,0.755,0.765,0.775,0.785,0.795,0.805,0.815,0.825,0.835,0.845,0.855,0.865,0.875,0.885,0.894]},
{"p":"B2","s":"Carnivore","k":8.4,"v":[0.383,0.39,0.4,0.41,0.42,0.43,0.44,0.45,0.46,0.47,0.48,0.49,0.5,0.51,0.52,0.53,0.54,0.55,0.56,0.57,0.58,0.59,0.6,0.61,0.62,0.63,0.64,0.65,0.66,0.67,0.68,0.69,0.7,0.71,0.72,0.73,0.74,0.75,0.76,0.77,0.78,0.79,0.8,0.81,0.82,0.83,0.84,0.85,0.86,0.87,0.88,0.89,0.899]},
{"p":"B2","s":"Carnivore","k":8.5,"v":[0.381,0.395,0.405,0.415,0.425,0.435,0.445,0.455,0.465,0.475,0.485,0.495,0.505,0.515,0.525,0.535,0.545,0.555,0.565,0.575,0.585,0.595,0.605,0.615,0.625,0.635,0.645,0.655,0.675,0.685,0.695,0.705,0.715,0.725,0.735,0.745,0.755,0.765,0.775,0.785,0.795,0.805,0.815,0.825,0.835,0.845,0.855,0.865,0.875,0.885,0.895,0.903]},
{"p":"B2","s":"Carnivore","k":8.6,"v":[0.378,0.39,0.4,0.41,0.42,0.43,0.44,0.45,0.46,0.47,0.48,0.49,0.5,0.51,0.52,0.53,0.54,0.55,0.56,0.57,0.58,0.59,0.6,0.61,0.62,0.63,0.64,0.65,0.67,0.68,0.69,0.7,0.71,0.72,0.73,0.74,0.75,0.76,0.77,0.78,0.79,0.8,0.82,0.83,0.84,0.85,0.86,0.87,0.88,0.89,0.9,0.907]},
{"p":"B2","s":"Carnivore","k":8.7,"v":[0.376,0.385,0.395,0.405,0.415,0.425,0.435,0.445,0.455,0.465,0.475,0.485,0.495,0.505,0.515,0.525,0.535,0.545,0.555,0.565,0.575,0.585,0.595,0.605,0.615,0.625,0.635,0.645,0.655,0.665,0.675,0.685,0.695,0.705,0.715,0.725,0.735,0.745,0.755,0.765,0.775,0.785,0.795,0.805,0.825,0.835,0.845,0.855,0.865,0.875,0.885,0.895,0.905,0.911]},
{"p":"B2","s":"Carnivore","k":8.8,"v":[0.373,0.38,0.39,0.4,0.41,0.42,0.43,0.44,0.45,0.46,0.47,0.48,0.49,0.5,0.51,0.52,0.53,0.54,0.55,0.56,0.57,0.58,0.59,0.6,0.61,0.62,0.63,0.64,0.65,0.66,0.67,0.68,0.69,0.7,0.71,0.72,0.73,0.74,0.75,0.76,0.77,0.78,0.79,0.8,0.81,0.82,0.83,0.84,0.85,0.86,0.87,0.88,0.89,0.9,0.91]},
{"p":"B2","s":"Carnivore","k":8.9,"v":[0.371,0.385,0.395,0.405,0.415,0.425,0.435,0.445,0.455,0.465,0.475,0.485,0.495,0.505,0.515,0.525,0.535,0.545,0.555,0.565,0.575,0.585,0.595,0.605,0.615,0.625,0.635,0.645,0.655,0.665,0.675,0.685,0.695,0.705,0.715,0.725,0.735,0.745,0.755,0.765,0.775,0.785,0.795,0.805,0.815,0.825,0.835,0.845,0.855,0.865,0.875,0.885,0.895,0.905,0.917]},
{"p":"B2","s":"Carnivore","k":9.0,"v":[0.368,0.38,0.39,0.4,0.41,0.42,0.43,0.44,0.45,0.46,0.47,0.48,0.49,0.5,0.51,0.52,0.53,0.54,0.55,0.56,0.57,0.58,0.59,0.61,0.62,0.63,0.64,0.65,0.66,0.67,0.68,0.69,0.7,0.71,0.73,0.74,0.75,0.76,0.77,0.78,0.79,0.8,0.81,0.82,0.83,0.84,0.85,0.86,0.87,0.88,0.89,0.9,0.91,0.92]},
{"p":"B2","s":"Carnivore","k":9.1,"v":[0.366,0.375,0.385,0.395,0.405,0.415,0.425,0.435,0.445,0.455,0.465,0.475,0.485,0.495,0.505,0.515,0.525,0.535,0.545,0.555,0.565,0.575,0.585,0.595,0.615,0.625,0.635,0.645,0.655,0.665,0.675,0.685,0.695,0.705,0.715,0.735,0.745,0.755,0.765,0.775,0.785,0.795,0.805,0.815,0.825,0.835,0.845,0.855,0.865,0.875,0.885,0.895,0.905,0.915,0.922]},
{"p":"B2","s":"Carnivore","k":9.2,"v":[0.363,0.37,0.38,0.39,0.4,0.41,0.42,0.43,0.44,0.45,0.46,0.47,0.48,0.49,0.5,0.51,0.52,0.53,0.54,0.55,0.56,0.57,0.58,0.59,0.6,0.61,0.62,0.63,0.64,0.65,0.66,0.67,0.68,0.69,0.7,0.71,0.72,0.73,0.74,0.75,0.76,0.77,0.78,0.79,0.8,0.81,0.82,0.83,0.84,0.85,0.86,0.87,0.88,0.89,0.9,0.91,0.92,0.925]},
{"p":"B2","s":"Carnivore","k":9.3,"v":[0.361,0.375,0.385,0.395,0.405,0.415,0.425,0.435,0.445,0.455,0.465,0.475,0.485,0.495,0.505,0.515,0.525,0.535,0.545,0.555,0.565,0.575,0.585,0.595,0.605,0.615,0.625,0.635,0.645,0.655,0.665,0.675,0.685,0.695,0.705,0.715,0.725,0.735,0.745,0.755,0.765,0.775,0.795,0.805,0.815,0.825,0.835,0.845,0.855,0.865,0.875,0.885,0.895,0.905,0.915,0.927]},
{"p":"B2","s":"Carnivore","k":9.4,"v":[0.358,0.37,0.38,0.39,0.4,0.41,0.42,0.43,0.44,0.45,0.46,0.47,0.48,0.49,0.51,0.52,0.53,0.54,0.55,0.56,0.57,0.58,0.59,0.6,0.61,0.62,0.63,0.64,0.65,0.66,0.67,0.68,0.69,0.7,0.71,0.72,0.73,0.74,0.75,0.76,0.77,0.79,0.8,0.81,0.82,0.83,0.84,0.85,0.86,0.87,0.88,0.89,0.9,0.91,0.92,0.929]},
{"p":"B2","s":"Carnivore","k":9.5,"v":[0.356,0.365,0.375,0.385,0.395,0.405,0.415,0.425,0.435,0.445,0.455,0.465,0.475,0.485,0.495,0.505,0.515,0.525,0.535,0.545,0.555,0.565,0.575,0.585,0.595,0.605,0.615,0.625,0.635,0.645,0.655,0.665,0.675,0.685,0.695,0.705,0.715,0.725,0.735,0.745,0.755,0.765,0.775,0.785,0.795,0.805,0.815,0.825,0.835,0.845,0.855,0.865,0.875,0.885,0.895,0.905,0.915,0.93]},
{"p":"B2","s":"Carnivore","k":9.6,"v":[0.353,0.36,0.37,0.38,0.39,0.4,0.41,0.42,0.43,0.44,0.45,0.46,0.47,0.48,0.49,0.5,0.51,0.52,0.53,0.54,0.55,0.56,0.57,0.58,0.59,0.6,0.61,0.62,0.63,0.64,0.65,0.66,0.68,0.69,0.7,0.71,0.72,0.73,0.74,0.75,0.76,0.77,0.78,0.79,0.8,0.81,0.82,0.83,0.84,0.85,0.86,0.87,0.88,0.89,0.9,0.91,0.92,0.932]},
{"p":"B2","s":"Carnivore","k":9.7,"v":[0.351,0.365,0.375,0.385,0.395,0.405,0.415,0.425,0.435,0.445,0.455,0.465,0.475,0.485,0.495,0.505,0.515,0.525,0.535,0.545,0.555,0.565,0.575,0.585,0.595,0.605,0.615,0.625,0.635,0.645,0.655,0.665,0.685,0.695,0.705,0.715,0.725,0.735,0.745,0.755,0.765,0.775,0.785,0.795,0.805,0.815,0.825,0.835,0.855,0.865,0.875,0.885,0.895,0.905,0.915,0.925,0.933]},
{"p":"B2","s":"Carnivore","k":9.8,"v":[0.348,0.36,0.37,0.38,0.39,0.4,0.41,0.42,0.43,0.44,0.45,0.46,0.47,0.48,0.49,0.5,0.51,0.52,0.53,0.54,0.55,0.56,0.57,0.58,0.59,0.6,0.61,0.62,0.63,0.64,0.65,0.66,0.67,0.68,0.69,0.7,0.71,0.72,0.73,0.74,0.75,0.76,0.77,0.78,0.79,0.8,0.81,0.82,0.83,0.84,0.85,0.86,0.87,0.88,0.89,0.9,0.91,0.92,0.934]},
{"p":"B2","s":"Carnivore","k":9.9,"v":[0.346,0.355,0.365,0.375,0.385,0.395,0.405,0.415,0.425,0.435,0.445,0.455,0.465,0.475,0.485,0.495,0.505,0.515,0.525,0.535,0.545,0.555,0.565,0.575,0.585,0.595,0.605,0.615,0.625,0.635,0.645,0.655,0.665,0.675,0.685,0.695,0.705,0.715,0.725,0.735,0.745,0.755,0.765,0.775,0.785,0.795,0.805,0.815,0.825,0.835,0.845,0.855,0.865,0.875,0.885,0.895,0.905,0.915,0.925,0.935]}
]
},
"columns":2,
"bounds":"flush",
"spacing":{"row":0,"column":66},
"resolve":{"scale":{"color":"independent"},"legend":{"color":"independent"}},
"concat":[
{"width":506,"height":38,"view":{"fill":"#d9d9d9","stroke":null},
"title":{"text":"(A)","anchor":"start","frame":"group","orient":"top","fontSize":40,"fontWeight":"bold","font":"Liberation Sans","color":"#000000","baseline":"alphabetic","offset":-42,"dx":-123,"dy":12},
"data":{"values":[{"t":"X=0"}]},
"mark":{"type":"text","fontSize":25.5,"color":"#1a1a1a","font":"Liberation Sans"},
"encoding":{"text":{"field":"t","type":"nominal"}}},
{"width":503,"height":38,"view":{"fill":"#d9d9d9","stroke":null},
"data":{"values":[{"t":"X=2"}]},
"mark":{"type":"text","fontSize":25.5,"color":"#1a1a1a","font":"Liberation Sans"},
"encoding":{"text":{"field":"t","type":"nominal"}}},
{"width":506,"height":595,
"data":{"name":"curves"},
"transform":[{"fold":["a","b","c","d","e","f"],"as":["key","v"]},{"filter":"isValid(datum.v)"},{"lookup":"key","from":{"data":{"name":"keys"},"key":"key","fields":["s"]}}],
"mark":{"type":"point","filled":true,"size":52,"opacity":1,"strokeWidth":0},
"encoding":{
"x":{"field":"k","type":"quantitative","scale":{"domain":[0.555,10.35],"nice":false,"zero":false},"axis":{"values":[1,3,5,7,9],"format":"d","title":"Carrying capacity K","titleX":540}},
"y":{"field":"v","type":"quantitative","scale":{"domain":[-0.44,10.05],"nice":false,"zero":false},"axis":{"values":[0,2.5,5,7.5,10],"format":".1f","title":"Extremum of biomass density"}},
"color":{"field":"s","type":"nominal","scale":{"domain":["Carnivore","Herbivore","Primary producer"],"range":["#CD2626","#1874CD","#66CD00"]},
"legend":{"orient":"none","legendX":14,"legendY":18,"title":null,"labelFontSize":26,"labelColor":"#000000","labelFont":"Liberation Sans","labelLimit":0,"symbolSize":80,"symbolType":"circle","labelOffset":5,"rowPadding":3,"padding":0,"symbolStrokeWidth":0}}
}},
{"width":503,"height":595,
"encoding":{
"x":{"field":"k","type":"quantitative","scale":{"domain":[0.555,10.35],"nice":false,"zero":false},"axis":{"values":[1,3,5,7,9],"format":"d","title":null}},
"y":{"field":"v","type":"quantitative","scale":{"domain":[-0.006,0.879],"nice":false,"zero":false},"axis":{"values":[0,0.2,0.4,0.6,0.8],"format":".1f","title":null}},
"color":{"field":"s","type":"nominal","scale":{"domain":["Carnivore","Herbivore","Primary producer"],"range":["#CD2626","#1874CD","#66CD00"]},"legend":null}
},
"layer":[
{"data":{"name":"curves"},
"transform":[{"fold":["g","h","i"],"as":["key","v"]},{"filter":"isValid(datum.v)"},{"lookup":"key","from":{"data":{"name":"keys"},"key":"key","fields":["s"]}}],
"mark":{"type":"point","filled":true,"size":52,"opacity":1,"strokeWidth":0}},
{"data":{"name":"bands"},
"transform":[{"filter":"datum.p == 'A2'"},{"flatten":["v"]}],
"mark":{"type":"point","filled":true,"size":74,"opacity":1,"strokeWidth":0}}
]},
{"width":506,"height":90,"data":{"values":[]},"mark":"point"},
{"width":503,"height":90,"data":{"values":[]},"mark":"point"},
{"width":504,"height":38,"view":{"fill":"#d9d9d9","stroke":null},
"title":{"text":"(B)","anchor":"start","frame":"group","orient":"top","fontSize":40,"fontWeight":"bold","font":"Liberation Sans","color":"#000000","baseline":"alphabetic","offset":-42,"dx":-123,"dy":16},
"data":{"values":[{"t":"X=0"}]},
"mark":{"type":"text","fontSize":25.5,"color":"#1a1a1a","font":"Liberation Sans"},
"encoding":{"text":{"field":"t","type":"nominal"}}},
{"width":505,"height":38,"view":{"fill":"#d9d9d9","stroke":null},
"data":{"values":[{"t":"X=2"}]},
"mark":{"type":"text","fontSize":25.5,"color":"#1a1a1a","font":"Liberation Sans"},
"encoding":{"text":{"field":"t","type":"nominal"}}},
{"width":504,"height":597,
"data":{"name":"curves"},
"transform":[{"fold":["j","l"],"as":["key","v"]},{"filter":"isValid(datum.v)"},{"lookup":"key","from":{"data":{"name":"keys"},"key":"key","fields":["s"]}}],
"mark":{"type":"point","filled":true,"size":52,"opacity":1,"strokeWidth":0},
"encoding":{
"x":{"field":"k","type":"quantitative","scale":{"domain":[0.555,10.35],"nice":false,"zero":false},"axis":{"values":[1,3,5,7,9],"format":"d","title":"Carrying capacity K","titleX":538}},
"y":{"field":"v","type":"quantitative","scale":{"domain":[0.0282,0.1034],"nice":false,"zero":false},"axis":{"values":[0.04,0.06,0.08,0.1],"format":".2f","title":"Extremum of metabolic rate"}},
"color":{"field":"s","type":"nominal","scale":{"domain":["Carnivore","Herbivore"],"range":["#CD2626","#1874CD"]},
"legend":{"orient":"none","legendX":10,"legendY":139,"title":null,"labelFontSize":26,"labelColor":"#000000","labelFont":"Liberation Sans","labelLimit":0,"symbolSize":80,"symbolType":"circle","labelOffset":5,"rowPadding":3,"padding":0,"symbolStrokeWidth":0}}
}},
{"width":505,"height":597,
"encoding":{
"x":{"field":"k","type":"quantitative","scale":{"domain":[0.555,10.35],"nice":false,"zero":false},"axis":{"values":[1,3,5,7,9],"format":"d","title":null}},
"y":{"field":"v","type":"quantitative","scale":{"domain":[0.327,1.032],"nice":false,"zero":false},"axis":{"values":[0.4,0.6,0.8,1.0],"format":".1f","title":null}},
"color":{"field":"s","type":"nominal","scale":{"domain":["Carnivore","Herbivore"],"range":["#CD2626","#1874CD"]},"legend":null}
},
"layer":[
{"data":{"name":"curves"},
"transform":[{"fold":["m","n"],"as":["key","v"]},{"filter":"isValid(datum.v)"},{"lookup":"key","from":{"data":{"name":"keys"},"key":"key","fields":["s"]}}],
"mark":{"type":"point","filled":true,"size":52,"opacity":1,"strokeWidth":0}},
{"data":{"name":"bands"},
"transform":[{"filter":"datum.p == 'B2'"},{"flatten":["v"]}],
"mark":{"type":"point","filled":true,"size":74,"opacity":1,"strokeWidth":0}}
]}
]
}
